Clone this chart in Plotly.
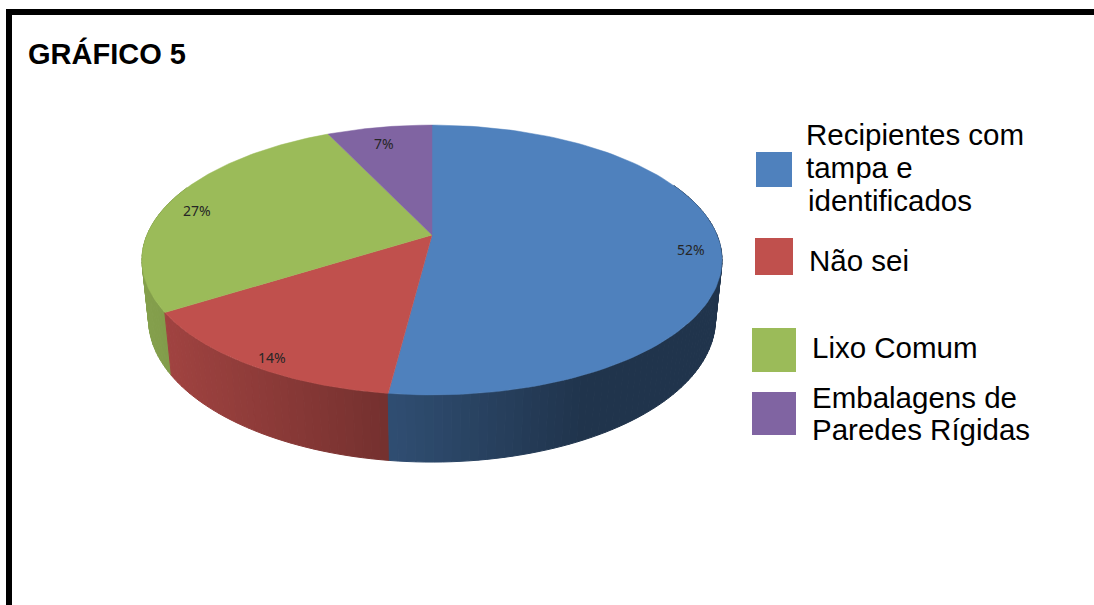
import numpy as np
import plotly.graph_objects as go

# ---- data -------------------------------------------------------------
categories = [
    "Recipientes com tampa e identificados",
    "Não sei",
    "Lixo Comum",
    "Embalagens de Paredes Rígidas",
]
values = [52, 14, 27, 7]
legend_lines = [
    ["Recipientes com", "tampa e", "identificados"],
    ["Não sei"],
    ["Lixo Comum"],
    ["Embalagens de", "Paredes Rígidas"],
]
colors = ["#4F81BD", "#C0504D", "#9BBB59", "#8064A2"]
title_text = "GRÁFICO 5"

# ---- canvas / pie geometry (pixel space) -----------------------------
W, H = 1094, 605
CX, CY = 432, 235          # centre of the pie's top face on screen
ELEV = np.radians(27.2)    # camera elevation
DIST = 4.8                 # camera distance (in pie radii)
FOCAL = 1368               # perspective focal length (pixels)
THICK = 0.236              # pie thickness (in pie radii)


def project(theta, r=1.0, y=0.0):
    """Perspective projection of a point on the pie (angle clockwise from back)."""
    x = r * np.sin(theta)
    z = r * np.cos(theta)
    d = DIST - y * np.sin(ELEV) + z * np.cos(ELEV)
    v = y * np.cos(ELEV) + z * np.sin(ELEV)
    return CX + FOCAL * x / d, CY - FOCAL * v / d


def hex_rgb(h):
    h = h.lstrip("#")
    return np.array([int(h[i:i + 2], 16) for i in (0, 2, 4)], dtype=float)


def shade(hexcol, px):
    # side walls get darker towards the right, as with a left-side light
    f = np.clip(0.85 - 0.00103 * (px - 150), 0.40, 0.90)
    r, g, b = (hex_rgb(hexcol) * f).round().astype(int)
    return f"rgb({r},{g},{b})"


vals = np.array(values, dtype=float)
frac = vals / vals.sum()
bounds = np.concatenate([[0.0], np.cumsum(frac)]) * 2 * np.pi

fig = go.Figure()

# ---- side wall, drawn back to front ----------------------------------
strips = []
for i, col in enumerate(colors):
    a0, a1 = bounds[i], bounds[i + 1]
    n = max(2, int(np.ceil((a1 - a0) / np.radians(1.5))))
    ts = np.linspace(a0, a1, n + 1)
    for ta, tb in zip(ts[:-1], ts[1:]):
        tm = 0.5 * (ta + tb)
        if np.cos(tm) > 0.4:
            continue
        strips.append((np.cos(tm), ta, tb, col))
strips.sort(key=lambda s: -s[0])
for _, ta, tb, col in strips:
    xa, ya = project(ta)
    xb, yb = project(tb)
    xb2, yb2 = project(tb, y=-THICK)
    xa2, ya2 = project(ta, y=-THICK)
    c = shade(col, project(0.5 * (ta + tb))[0])
    fig.add_trace(go.Scatter(
        x=[xa, xb, xb2, xa2, xa], y=[ya, yb, yb2, ya2, ya],
        mode="lines", fill="toself", fillcolor=c,
        line=dict(color=c, width=1), hoverinfo="skip", showlegend=False,
    ))

# ---- top face slices --------------------------------------------------
for i, col in enumerate(colors):
    ts = np.linspace(bounds[i], bounds[i + 1], 120)
    px, py = project(ts)
    fig.add_trace(go.Scatter(
        x=np.concatenate([[CX], px, [CX]]), y=np.concatenate([[CY], py, [CY]]),
        mode="lines", fill="toself", fillcolor=col,
        line=dict(color=col, width=0.5), hoverinfo="skip", showlegend=False,
        name=categories[i],
    ))

# ---- percentage labels -----------------------------------------------
annotations = []
for i, v in enumerate(values):
    tm = 0.5 * (bounds[i] + bounds[i + 1])
    lx, ly = project(tm, r=0.9)
    annotations.append(dict(
        x=lx, y=ly + 7, xref="x", yref="y", text=f"{v}%", showarrow=False,
        font=dict(family="Noto Sans, Open Sans, sans-serif", size=14, color="#262626"),
        xanchor="center", yanchor="middle",
    ))

# ---- legend (swatches + text) ----------------------------------------
swatches = [
    (756, 152, 792, 187),
    (755, 238, 793, 275),
    (752, 328, 796, 372),
    (752, 392, 796, 435),
]
text_pos = [
    [(804, 144), (804, 177), (806, 210)],
    [(807, 270)],
    [(810, 357)],
    [(810, 407), (810, 439)],
]
shapes = []
LEG_FONT = 29.5
for i, col in enumerate(colors):
    x0, y0, x1, y1 = swatches[i]
    shapes.append(dict(type="rect", xref="x", yref="y", x0=x0, y0=y0, x1=x1, y1=y1,
                       fillcolor=col, line=dict(width=0), layer="above"))
    for line, (tx, base) in zip(legend_lines[i], text_pos[i]):
        annotations.append(dict(
            x=tx, y=base - 0.33 * LEG_FONT, xref="x", yref="y", text=line,
            showarrow=False, xanchor="left", yanchor="middle",
            font=dict(family="Liberation Sans, Arial, sans-serif", size=LEG_FONT, color="#000000"),
        ))

# ---- title ------------------------------------------------------------
TITLE_FONT = 29
annotations.append(dict(
    x=26, y=63 - 0.33 * TITLE_FONT, xref="x", yref="y", text=f"<b>{title_text}</b>",
    showarrow=False, xanchor="left", yanchor="middle",
    font=dict(family="Liberation Sans, Arial, sans-serif", size=TITLE_FONT, color="#000000"),
))

# ---- frame ------------------------------------------------------------
shapes.append(dict(type="rect", xref="x", yref="y", x0=6, y0=9, x1=W + 5, y1=15,
                   fillcolor="#000000", line=dict(width=0), layer="above"))
shapes.append(dict(type="rect", xref="x", yref="y", x0=6, y0=9, x1=12, y1=H + 5,
                   fillcolor="#000000", line=dict(width=0), layer="above"))

fig.update_layout(
    width=W, height=H,
    margin=dict(l=0, r=0, t=0, b=0),
    paper_bgcolor="white", plot_bgcolor="white",
    xaxis=dict(range=[0, W], visible=False, fixedrange=True),
    yaxis=dict(range=[H, 0], visible=False, fixedrange=True),
    shapes=shapes, annotations=annotations, showlegend=False,
)

fig.write_html("out.html", config={"displayModeBar": False})
